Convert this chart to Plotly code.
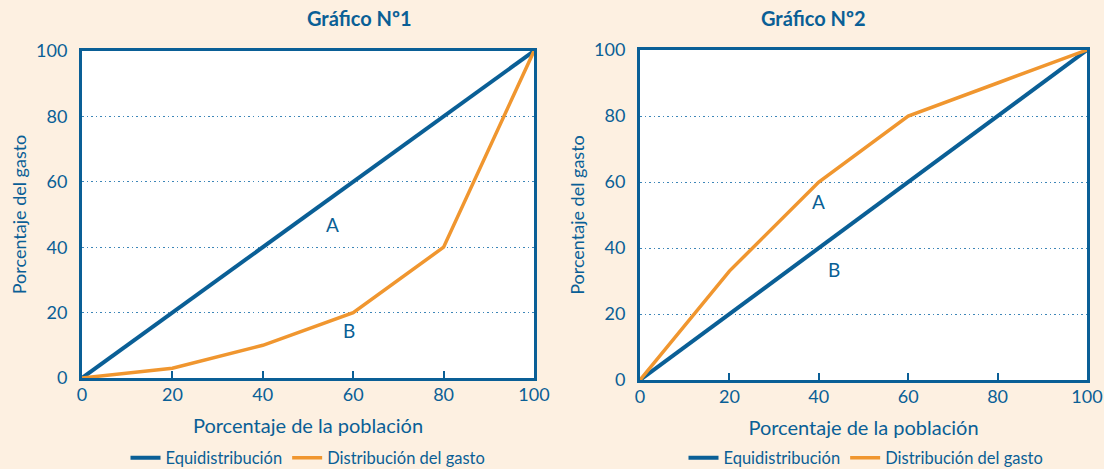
import plotly.graph_objects as go

# datos
poblacion = [0, 20, 40, 60, 80, 100]
equidistribucion = [0, 20, 40, 60, 80, 100]
gasto_1 = [0, 3, 10, 20, 40, 100]
gasto_2 = [0, 33, 60, 80, 90, 100]
tick_vals = [0, 20, 40, 60, 80, 100]

azul = "#0a5f96"
naranja = "#f0962f"
fondo = "#fdf0e1"
fuente = "Lato"

fig = go.Figure()

# Grafico 1
fig.add_trace(go.Scatter(x=poblacion, y=equidistribucion, mode="lines", name="Equidistribución",
                         line=dict(color=azul, width=4), xaxis="x", yaxis="y", cliponaxis=False, legend="legend"))
fig.add_trace(go.Scatter(x=poblacion, y=gasto_1, mode="lines", name="Distribución del gasto",
                         line=dict(color=naranja, width=3.5), xaxis="x", yaxis="y", cliponaxis=False, legend="legend"))
# Grafico 2
fig.add_trace(go.Scatter(x=poblacion, y=equidistribucion, mode="lines", name="Equidistribución",
                         line=dict(color=azul, width=4), xaxis="x2", yaxis="y2", cliponaxis=False, legend="legend2"))
fig.add_trace(go.Scatter(x=poblacion, y=gasto_2, mode="lines", name="Distribución del gasto",
                         line=dict(color=naranja, width=3.5), xaxis="x2", yaxis="y2", cliponaxis=False, legend="legend2"))

W, H = 1104, 469

def eje_x(dom, anchor):
    return dict(domain=dom, anchor=anchor, range=[0, 100], tickvals=tick_vals,
                showline=True, linecolor=azul, linewidth=3, mirror=True,
                ticks="inside", ticklen=7, tickwidth=1.5, tickcolor=azul,
                showgrid=False, zeroline=False, automargin=False, ticklabelstandoff=-2,
                tickfont=dict(size=18, color=azul, family=fuente),
                title=dict(text="Porcentaje de la población", font=dict(size=20, color=azul, family=fuente), standoff=16))

def eje_y(dom, anchor):
    return dict(domain=dom, anchor=anchor, range=[0, 100], tickvals=tick_vals,
                showline=True, linecolor=azul, linewidth=3, mirror=True,
                ticks="", showgrid=True, gridcolor="#3d86b8", griddash="1.5px,3px", gridwidth=1.2,
                zeroline=False, ticklabelstandoff=8, automargin=False,
                tickfont=dict(size=18, color=azul, family=fuente),
                title=dict(text="Porcentaje del gasto", font=dict(size=18, color=azul, family=fuente), standoff=5))

fig.update_layout(
    width=W, height=H,
    paper_bgcolor=fondo, plot_bgcolor="white",
    margin=dict(l=0, r=0, t=0, b=0, autoexpand=False),
    xaxis=eje_x([82 / W, 534 / W], "y"),
    yaxis=eje_y([1 - 378 / H, 1 - 51 / H], "x"),
    xaxis2=eje_x([640 / W, 1087 / W], "y2"),
    yaxis2=eje_y([1 - 380 / H, 1 - 50 / H], "x2"),
    legend=dict(orientation="h", x=308 / W, xanchor="center", y=1 - 458 / H, yanchor="middle",
                bgcolor="rgba(0,0,0,0)", font=dict(size=16.5, color=azul, family=fuente), itemwidth=30),
    legend2=dict(orientation="h", x=866 / W, xanchor="center", y=1 - 458 / H, yanchor="middle",
                 bgcolor="rgba(0,0,0,0)", font=dict(size=16.5, color=azul, family=fuente), itemwidth=30),
    showlegend=True,
)

anotaciones = [
    dict(text="<b>Gráfico Nº1</b>", x=305 / W, y=1 - 18 / H, xref="paper", yref="paper", showarrow=False,
         yanchor="middle", font=dict(size=20, color=azul, family=fuente)),
    dict(text="<b>Gráfico Nº2</b>", x=868 / W, y=1 - 18 / H, xref="paper", yref="paper", showarrow=False,
         yanchor="middle", font=dict(size=20, color=azul, family=fuente)),
    dict(text="A", x=55.5, y=47, xref="x", yref="y", showarrow=False, font=dict(size=19, color=azul, family=fuente)),
    dict(text="B", x=59, y=14.5, xref="x", yref="y", showarrow=False, font=dict(size=19, color=azul, family=fuente)),
    dict(text="A", x=40, y=54, xref="x2", yref="y2", showarrow=False, font=dict(size=19, color=azul, family=fuente)),
    dict(text="B", x=43.5, y=33.5, xref="x2", yref="y2", showarrow=False, font=dict(size=19, color=azul, family=fuente)),
]
fig.update_layout(annotations=anotaciones)

# sin margen del body, para que la figura empiece en (0, 0)
fig.write_html("out.html", config={"displayModeBar": False},
               post_script="document.body.style.margin='0';")
